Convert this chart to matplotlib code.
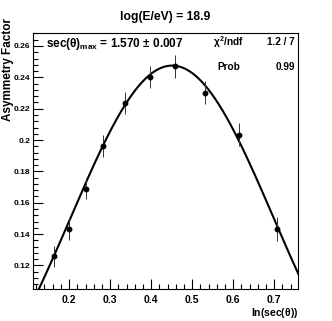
import numpy as np
import matplotlib
matplotlib.use("Agg")
import matplotlib.pyplot as plt
from matplotlib.ticker import MultipleLocator

plt.rcParams["font.family"] = ["Liberation Sans", "DejaVu Sans"]
plt.rcParams["font.weight"] = "bold"
plt.rcParams["mathtext.fontset"] = "custom"
plt.rcParams["mathtext.rm"] = "Liberation Sans:bold"
plt.rcParams["mathtext.bf"] = "Liberation Sans:bold"
plt.rcParams["mathtext.it"] = "Liberation Sans:bold"

# points (ln(sec theta), asymmetry factor, error)
ln_sec = [0.163, 0.199, 0.240, 0.283, 0.337, 0.396, 0.458, 0.532, 0.615, 0.706]
asym = [0.1258, 0.1433, 0.1690, 0.1960, 0.2236, 0.2402, 0.2470, 0.2302, 0.2034, 0.1432]
asym_err = [0.0068, 0.0068, 0.0068, 0.0070, 0.0070, 0.0070, 0.0072, 0.0072, 0.0075, 0.0075]

# fit result (gaussian in ln(sec))
sec_max = 1.570
sec_max_err = 0.007
fit_amp = 0.2475
fit_sigma = 0.248
chi2, ndf, prob = 1.2, 7, 0.99

fig = plt.figure(figsize=(3.32, 3.21), dpi=100)
ax = fig.add_axes([33 / 332, 32 / 321, 265 / 332, 256.5 / 321])

xs = np.linspace(0.11, 0.76, 400)
mu = np.log(sec_max)
ax.plot(xs, fit_amp * np.exp(-(xs - mu) ** 2 / (2 * fit_sigma ** 2)), color="black", lw=1.5)
ax.errorbar(ln_sec, asym, yerr=asym_err, fmt="o", color="black", ms=3.2,
            ecolor="#333333", elinewidth=0.7, capsize=0)

ax.set_xlim(0.112, 0.758)
ax.set_ylim(0.105, 0.2686)
ax.xaxis.set_major_locator(MultipleLocator(0.1))
ax.xaxis.set_minor_locator(MultipleLocator(0.02))
ax.yaxis.set_major_locator(MultipleLocator(0.02))
ax.yaxis.set_minor_locator(MultipleLocator(0.004))
ax.xaxis.set_major_formatter(plt.FuncFormatter(lambda v, p: f"{v:g}"))
ax.yaxis.set_major_formatter(plt.FuncFormatter(lambda v, p: f"{v:g}"))
ax.tick_params(which="both", direction="in", top=False, right=False, width=0.8)
ax.tick_params(which="major", length=7)
ax.tick_params(which="minor", length=3.5)
ax.tick_params(axis="x", labelsize=7.5, pad=4)
ax.tick_params(axis="y", labelsize=6, pad=2)
for s in ax.spines.values():
    s.set_linewidth(0.8)

ax.set_xlabel(r"ln(sec($\theta$))", fontsize=7.5, fontweight="bold")
ax.xaxis.set_label_coords(1.0, -0.065)
ax.xaxis.label.set_ha("right")
ax.set_ylabel("Asymmetry Factor", fontsize=8.5, fontweight="bold")
ax.yaxis.set_label_coords(-0.094, 1.055)
ax.yaxis.label.set_ha("right")
ax.yaxis.label.set_va("center")

fig.text(165 / 332, 1 - 17 / 321, "log(E/eV) = 18.9", ha="center", va="center",
         fontsize=8.7, fontweight="bold")
fig.text(46 / 332, 1 - 47 / 321,
         r"sec($\theta$)$_{\rm max}$ = " + f"{sec_max:.3f}" + r" $\pm$ " + f"{sec_max_err:.3f}",
         ha="left", va="baseline", fontsize=8.5, fontweight="bold")
fig.text(213 / 332, 1 - 42 / 321, r"$\chi^{2}$/ndf", ha="left", va="center", fontsize=7.2)
fig.text(295 / 332, 1 - 42 / 321, f"{chi2:.1f} / {ndf}", ha="right", va="center", fontsize=7.2)
fig.text(217 / 332, 1 - 66.5 / 321, "Prob", ha="left", va="center", fontsize=7.2)
fig.text(295 / 332, 1 - 66.5 / 321, f"{prob:.2f}", ha="right", va="center", fontsize=7.2)

fig.savefig("out.png", dpi=100)
